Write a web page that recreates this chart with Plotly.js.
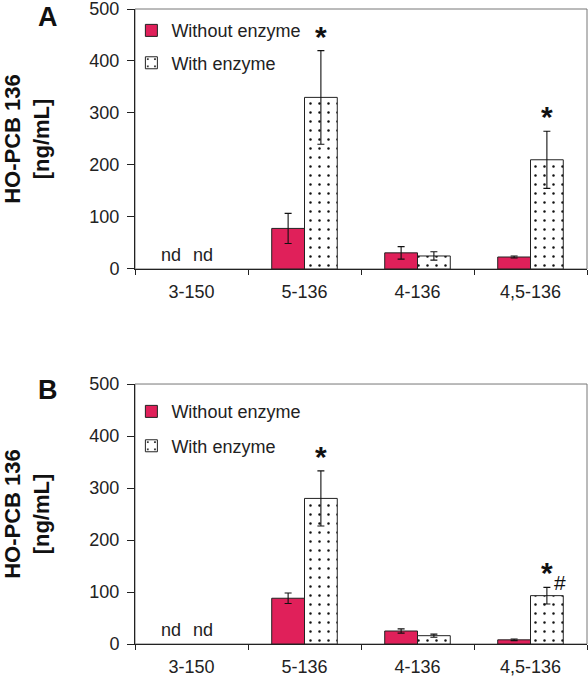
<!DOCTYPE html>
<html>
<head>
<meta charset="utf-8">
<script src="https://cdn.plot.ly/plotly-3.0.1.min.js"></script>
<style>html,body{margin:0;padding:0;background:#fff;}</style>
</head>
<body>
<div id="chart" style="width:588px;height:676px;"></div>
<script>
// ---- data ----
const categories = ['3-150', '5-136', '4-136', '4,5-136'];

const A_without = [null, 78, 31, 23];
const A_without_err = [0, 29, 12, 2];
const A_with = [null, 330, 25, 210];
const A_with_err = [0, 90, 8, 55];
const A_sig = ['', '*', '', '*'];

const B_without = [null, 88, 25, 8];
const B_without_err = [0, 10, 4, 1.5];
const B_with = [null, 280, 16, 93];
const B_with_err = [0, 53, 3, 16];
const B_sig = ['', '*', '', '*'];
const B_hash = ['', '', '', '#'];

const ndLabels = ['nd', '', '', ''];

const seriesNames = ['Without enzyme', 'With enzyme'];
const yTicks = [0, 100, 200, 300, 400, 500];

// ---- styles ----
const FONT = 'Arial, "Liberation Sans", sans-serif';
const RED = '#E0205A';

function redTrace(y, err, xa, ya, leg, show) {
  return {
    type: 'bar', x: categories, y: y, name: seriesNames[0],
    xaxis: xa, yaxis: ya, legend: leg, showlegend: show, legendgroup: leg + 'a',
    marker: {color: RED, line: {color: '#222', width: 1}},
    error_y: {type: 'data', array: err, visible: true, color: '#111', thickness: 1.1, width: 3.5},
    hoverinfo: 'skip'
  };
}
function dotTrace(y, err, xa, ya, leg, show) {
  return {
    type: 'bar', x: categories, y: y, name: seriesNames[1],
    xaxis: xa, yaxis: ya, legend: leg, showlegend: show, legendgroup: leg + 'b',
    marker: {color: '#ffffff', line: {color: '#222', width: 1},
      pattern: {shape: '.', fgcolor: '#111', bgcolor: '#ffffff', size: 9, solidity: 0.06, fillmode: 'replace'}},
    error_y: {type: 'data', array: err, visible: true, color: '#111', thickness: 1.1, width: 3.5},
    hoverinfo: 'skip'
  };
}

const data = [
  redTrace(A_without, A_without_err, 'x', 'y', 'legend', true),
  dotTrace(A_with, A_with_err, 'x', 'y', 'legend', true),
  redTrace(B_without, B_without_err, 'x2', 'y2', 'legend2', true),
  dotTrace(B_with, B_with_err, 'x2', 'y2', 'legend2', true)
];

const annotations = [];
function addSig(vals, errs, sig, xref, yref) {
  categories.forEach((c, i) => {
    if (sig[i]) {
      annotations.push({x: c, y: vals[i] + errs[i], xref: xref, yref: yref,
        text: '<b>' + sig[i] + '</b>', showarrow: false, xshift: 16.5, yshift: -4,
        yanchor: 'bottom', font: {family: FONT, size: 30, color: '#111'}});
    }
  });
}
function addHash(vals, errs, sig, xref, yref) {
  categories.forEach((c, i) => {
    if (sig[i]) {
      annotations.push({x: c, y: vals[i] + errs[i], xref: xref, yref: yref,
        text: sig[i], showarrow: false, xshift: 29, yshift: 5,
        yanchor: 'middle', font: {family: FONT, size: 21, color: '#111'}});
    }
  });
}
function addNd(xref, yref) {
  categories.forEach((c, i) => {
    if (ndLabels[i]) {
      annotations.push({x: c, y: 0, xref: xref, yref: yref, text: ndLabels[i], showarrow: false,
        xshift: -21, yshift: 2, yanchor: 'bottom', font: {family: FONT, size: 18, color: '#222'}});
      annotations.push({x: c, y: 0, xref: xref, yref: yref, text: ndLabels[i], showarrow: false,
        xshift: 11, yshift: 2, yanchor: 'bottom', font: {family: FONT, size: 18, color: '#222'}});
    }
  });
}
addSig(A_with, A_with_err, A_sig, 'x', 'y');
addSig(B_with, B_with_err, B_sig, 'x2', 'y2');
addHash(B_with, B_with_err, B_hash, 'x2', 'y2');
addNd('x', 'y');
addNd('x2', 'y2');
annotations.push({xref: 'paper', yref: 'paper', x: -0.193, y: 0.9875, text: '<b>A</b>', showarrow: false,
  xanchor: 'center', yanchor: 'middle', font: {family: FONT, size: 27, color: '#111'}});
annotations.push({xref: 'paper', yref: 'paper', x: -0.193, y: 0.400, text: '<b>B</b>', showarrow: false,
  xanchor: 'center', yanchor: 'middle', font: {family: FONT, size: 27, color: '#111'}});

function xax(anchor) {
  return {anchor: anchor, domain: [0, 1], type: 'category', showline: true, linecolor: '#222', linewidth: 1,
    ticks: 'outside', tickson: 'boundaries', ticklen: 5, tickcolor: '#222', showgrid: false, zeroline: false,
    tickfont: {family: FONT, size: 18, color: '#222'}, ticklabelstandoff: 6, fixedrange: true};
}
function yax(anchor, domain) {
  return {anchor: anchor, domain: domain, range: [0, 500], tickvals: yTicks, showline: true, linecolor: '#222',
    linewidth: 1, ticks: 'outside', ticklen: 7, tickcolor: '#222', showgrid: false, zeroline: false,
    tickfont: {family: FONT, size: 18, color: '#222'}, ticklabelstandoff: 4, ticklabeloverflow: 'allow',
    fixedrange: true,
    title: {text: '<b>HO-PCB 136<br>[ng/mL]</b>', font: {family: FONT, size: 22, color: '#111'}, standoff: 38}};
}

const layout = {
  width: 588, height: 676,
  margin: {l: 135, r: 1, t: 9, b: 32},
  paper_bgcolor: '#fff', plot_bgcolor: '#fff',
  barmode: 'group', bargap: 0.42, bargroupgap: 0,
  font: {family: FONT, color: '#222'},
  xaxis: xax('y'), yaxis: yax('x', [0.5906, 1]),
  xaxis2: xax('y2'), yaxis2: yax('x2', [0, 0.4094]),
  legend: {x: -0.008, y: 0.995, xanchor: 'left', yanchor: 'top', bgcolor: 'rgba(0,0,0,0)',
    font: {family: FONT, size: 18, color: '#222'}, tracegroupgap: 6, itemwidth: 30},
  legend2: {x: -0.008, y: 0.395, xanchor: 'left', yanchor: 'top', bgcolor: 'rgba(0,0,0,0)',
    font: {family: FONT, size: 18, color: '#222'}, tracegroupgap: 8, itemwidth: 30},
  shapes: [
    {type: 'rect', xref: 'x domain', yref: 'y domain', x0: 0, x1: 1, y0: 0, y1: 1, line: {color: '#777', width: 1}, layer: 'below'},
    {type: 'rect', xref: 'x2 domain', yref: 'y2 domain', x0: 0, x1: 1, y0: 0, y1: 1, line: {color: '#777', width: 1}, layer: 'below'}
  ],
  annotations: annotations,
  showlegend: true
};

Plotly.newPlot('chart', data, layout, {staticPlot: true, displayModeBar: false});
</script>
</body>
</html>
